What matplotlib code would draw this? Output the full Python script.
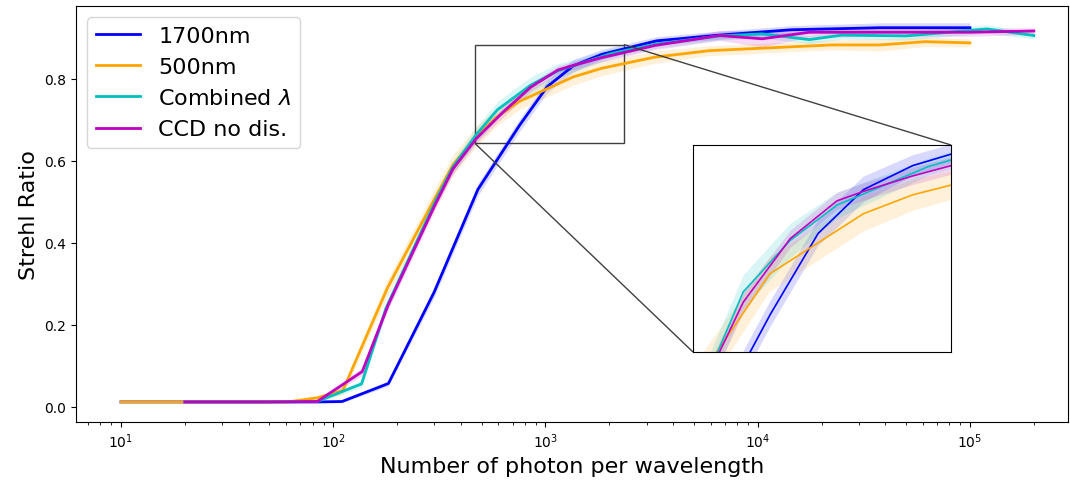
import matplotlib
matplotlib.use('Agg')
import matplotlib.pyplot as plt
import numpy as np
from mpl_toolkits.axes_grid1.inset_locator import mark_inset

# 1700nm
x_1700 = [10, 20, 50, 85, 110, 182, 299, 480, 755, 1018, 1352, 1841, 3337, 6600, 14400, 37600, 100000]
y_1700 = [0.012, 0.012, 0.012, 0.012, 0.013, 0.057, 0.28, 0.53, 0.687, 0.781, 0.832, 0.86, 0.893, 0.907, 0.920, 0.925, 0.925]
e_1700 = [0.002, 0.002, 0.002, 0.002, 0.003, 0.006, 0.012, 0.015, 0.015, 0.015, 0.015, 0.012, 0.01, 0.01, 0.01, 0.012, 0.012]

# 500nm
x_500 = [10, 20, 50, 61, 84, 111, 180, 300, 366, 473, 589, 752, 1352, 1841, 3260, 5900, 22300, 37600, 61500, 100000]
y_500 = [0.012, 0.012, 0.012, 0.012, 0.022, 0.04, 0.29, 0.507, 0.59, 0.66, 0.707, 0.745, 0.805, 0.826, 0.853, 0.869, 0.883, 0.883, 0.891, 0.888]
e_500 = [0.002, 0.002, 0.002, 0.002, 0.005, 0.01, 0.02, 0.025, 0.025, 0.025, 0.022, 0.02, 0.02, 0.018, 0.015, 0.012, 0.012, 0.015, 0.012, 0.01]

# Combined lambda
x_comb = [20, 50, 84, 136, 177, 305, 366, 473, 594, 853, 1146, 1352, 2037, 3300, 6600, 10500, 17500, 25000, 50000, 120000, 200000]
y_comb = [0.012, 0.012, 0.013, 0.056, 0.24, 0.505, 0.585, 0.665, 0.725, 0.785, 0.82, 0.832, 0.862, 0.885, 0.905, 0.91, 0.896, 0.907, 0.905, 0.922, 0.906]
e_comb = [0.002, 0.002, 0.003, 0.008, 0.012, 0.012, 0.015, 0.018, 0.02, 0.02, 0.018, 0.015, 0.012, 0.01, 0.01, 0.01, 0.01, 0.01, 0.01, 0.01, 0.008]

# CCD no distortion
x_ccd = [20, 50, 84, 137, 182, 300, 366, 473, 634, 853, 1146, 1352, 1841, 3300, 6600, 10500, 17500, 40000, 100000, 200000]
y_ccd = [0.012, 0.012, 0.013, 0.086, 0.25, 0.49, 0.58, 0.655, 0.72, 0.78, 0.822, 0.833, 0.852, 0.882, 0.906, 0.898, 0.914, 0.914, 0.914, 0.917]
e_ccd = [0.002, 0.002, 0.003, 0.01, 0.012, 0.012, 0.012, 0.012, 0.012, 0.01, 0.01, 0.01, 0.01, 0.01, 0.012, 0.02, 0.012, 0.01, 0.01, 0.008]

# values (it does not line up exactly with the main panel)
ins_x_500 = [450, 752, 1352, 1841, 3260]
ins_y_500 = [0.593, 0.734, 0.804, 0.826, 0.853]
ins_e_500 = [0.025, 0.02, 0.02, 0.018, 0.015]

ins_x_comb = [473, 637, 855, 1146, 2034, 3300]
ins_y_comb = [0.583, 0.713, 0.773, 0.814, 0.859, 0.885]
ins_e_comb = [0.02, 0.02, 0.02, 0.015, 0.01, 0.01]

ins_x_ccd = [473, 637, 855, 1146, 1352, 1841, 2340, 3300]
ins_y_ccd = [0.585, 0.701, 0.775, 0.819, 0.830, 0.848, 0.86, 0.882]
ins_e_ccd = [0.012, 0.012, 0.01, 0.01, 0.01, 0.01, 0.01, 0.01]

labels = ['1700nm', '500nm', 'Combined $\\lambda$', 'CCD no dis.']
colors = ['b', 'orange', 'c', 'm']

main_data = [(x_1700, y_1700, e_1700), (x_500, y_500, e_500),
             (x_comb, y_comb, e_comb), (x_ccd, y_ccd, e_ccd)]
inset_data = [(x_1700, y_1700, e_1700), (ins_x_500, ins_y_500, ins_e_500),
              (ins_x_comb, ins_y_comb, ins_e_comb), (ins_x_ccd, ins_y_ccd, ins_e_ccd)]


def draw(ax, data, lw, label=True):
    for (x, y, e), name, c in zip(data, labels, colors):
        x = np.array(x); y = np.array(y); e = np.array(e)
        ax.plot(x, y, color=c, lw=lw, label=name if label else None)
        ax.fill_between(x, y - e, y + e, color=c, alpha=0.15, lw=0)


fig = plt.figure(figsize=(10.7, 4.85), dpi=100)
ax = fig.add_axes([76 / 1070, 62 / 485, 992 / 1070, 416 / 485])
draw(ax, main_data, 2)
ax.set_xscale('log')
ax.set_xlim(10 ** 0.788, 10 ** 5.462)
ax.set_ylim(-0.037, 0.978)
ax.set_xlabel('Number of photon per wavelength', fontsize=16)
ax.set_ylabel('Strehl Ratio', fontsize=16)
ax.legend(loc='upper left', fontsize=16)

axins = fig.add_axes([693 / 1070, 132 / 485, 258 / 1070, 207 / 485])
draw(axins, inset_data, 1.2, label=False)
axins.set_xscale('log')
axins.set_xlim(465, 2340)
axins.set_ylim(0.643, 0.884)
axins.set_xticks([]); axins.set_yticks([])
axins.xaxis.set_minor_locator(matplotlib.ticker.NullLocator())
mark_inset(ax, axins, loc1=1, loc2=3, fc='none', ec='0.25')

plt.savefig('out.png')
